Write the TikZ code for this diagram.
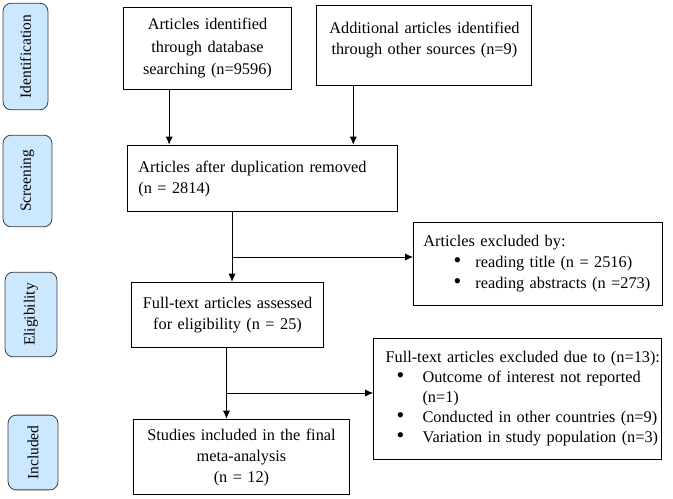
\documentclass[tikz,border=0pt]{standalone}
\usepackage{fontspec}
\setmainfont{Liberation Serif}
\usetikzlibrary{arrows.meta}
\definecolor{tabblue}{RGB}{204,232,255}
\definecolor{tabline}{RGB}{60,60,60}
\tikzset{
  box/.style={draw, line width=0.8bp, inner ysep=0, inner xsep=10bp, align=center,
    font=\fontsize{16.3bp}{21bp}\selectfont},
  tab/.style={draw=tabline, fill=tabblue, line width=0.8bp, rounded corners=8bp, rotate=90,
    inner sep=0, font=\fontsize{15.5bp}{20bp}\selectfont},
  arr/.style={line width=0.8bp, -{Latex[length=8bp,width=7bp]}},
  ln/.style={line width=0.8bp}
}
\newcommand{\bul}[1]{\hspace*{#1}\makebox[0pt][c]{\scalebox{1.35}{\textbullet}}}
\begin{document}
\begin{tikzpicture}[x=1bp,y=-1bp]
\useasboundingbox (0,0) rectangle (673,499);
\node[tab, minimum width=107, minimum height=45] (tid) at (25.5,56.5) {Identification};
\node[tab, minimum width=92, minimum height=49] (tscr) at (27.5,181) {Screening};
\node[tab, minimum width=85, minimum height=52] (telig) at (31,314.5) {Eligibility};
\node[tab, minimum width=75, minimum height=50] (tinc) at (33,452.5) {Included};
\node[box, text width=149, minimum height=83, font=\fontsize{16.3bp}{22.5bp}\selectfont] (dbase) at (207.5,48.5)
  {Articles identified\\through database\\searching (n=9596)};
\node[box, inner xsep=0, text width=216, minimum height=80] (other) at (424,45)
  {\parbox[c][80bp][t]{216bp}{\centering\rule{0pt}{29bp}Additional articles identified\\through other sources (n=9)}};
\node[box, inner xsep=11, text width=249, minimum height=67, align=left] (dup) at (262.5,178.5)
  {Articles after duplication removed\\(n = 2814)};
\node[box, text width=230, minimum height=84, align=left] (excl1) at (538,264)
  {Articles excluded by:\\
   \bul{34bp}\hspace{18bp}reading title (n = 2516)\\
   \bul{34bp}\hspace{18bp}reading abstracts (n =273)};
\node[box, text width=173, minimum height=66] (full) at (227.5,315)
  {Full-text articles assessed\\for eligibility (n = 25)};
\node[box, inner xsep=0, text width=289, minimum height=122, align=left,
  font=\fontsize{16.3bp}{20bp}\selectfont] (excl2) at (517.5,399)
  {\hspace*{12bp}Full-text articles excluded due to (n=13):\\
   \bul{27bp}\hspace{22bp}Outcome of interest not reported\\
   \hspace*{49bp}(n=1)\\
   \bul{27bp}\hspace{22bp}Conducted in other countries (n=9)\\
   \bul{27bp}\hspace{22bp}Variation in study population (n=3)};
\node[box, text width=197, minimum height=76] (incl) at (241.5,457)
  {Studies included in the final\\meta-analysis\\(n = 12)};
\coordinate (br1) at (232,257);
\coordinate (br2) at (226.5,393);
\draw[arr] ([xshift=-38.5]dbase.south) -- ([xshift=-38.5]dbase.south |- dup.north);
\draw[arr] ([xshift=-71]other.south) -- ([xshift=-71]other.south |- dup.north);
\draw[ln] (br1 |- dup.south) -- (br1);
\draw[arr] (br1) -- (br1 |- full.north);
\draw[arr] (br1) -- (br1 -| excl1.west);
\draw[ln] (br2 |- full.south) -- (br2);
\draw[arr] (br2) -- (br2 |- incl.north);
\draw[arr] (br2) -- (br2 -| excl2.west);
\end{tikzpicture}
\end{document}
